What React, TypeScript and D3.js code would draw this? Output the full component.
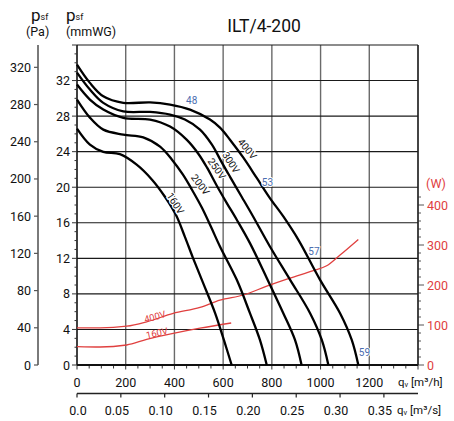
import React from 'react';
import * as d3 from 'd3';

const WIDTH = 454;
const HEIGHT = 421;

// ---- tick values ----
const qTicks = [0, 200, 400, 600, 800, 1000, 1200];
const qMinor = d3.range(0, 1401, 50);
const qsTicks = [0, 0.05, 0.1, 0.15, 0.2, 0.25, 0.3, 0.35];
const qsLabels = ['0.0', '0.05', '0.10', '0.15', '0.20', '0.25', '0.30', '0.35'];
const mmTicks = [0, 4, 8, 12, 16, 20, 24, 28, 32];
const mmMinor = d3.range(0, 37, 1);
const paTicks = [0, 40, 80, 120, 160, 200, 240, 280, 320];
const wTicks = [0, 100, 200, 300, 400];
const wMinor = d3.range(0, 421, 20);
const gridMm = [4, 8, 12, 16, 20, 24, 28, 32, 36];
const gridQ = [200, 400, 600, 800, 1000, 1200, 1400];

// ---- pressure curves [qv m3/h, psf mmWG] ----
const curve400V: [number, number][] = [
  [0, 33.8], [53, 31.74], [108, 30.23], [190, 29.49], [300, 29.55], [382, 29.3], [464, 28.73],
  [546, 27.61], [587, 26.7], [628, 25.35], [683, 23.32], [738, 21.04], [792, 18.78],
  [847, 16.71], [909, 14.08], [998, 9.58], [1080, 5.83], [1128, 2.82], [1155, 0],
];
const curve300V: [number, number][] = [
  [0, 32.9], [53, 30.99], [108, 29.49], [190, 28.54], [300, 28.47], [382, 28.17], [443, 27.61],
  [505, 26.48], [554, 24.79], [595, 22.76], [635, 20.85], [676, 18.93], [723, 16.71],
  [792, 13.33], [875, 9.58], [957, 5.83], [1005, 2.82], [1032, 0],
];
const curve250V: [number, number][] = [
  [0, 31.55], [53, 29.86], [108, 28.73], [190, 27.8], [300, 27.61], [382, 26.82], [450, 25.35],
  [498, 23.77], [534, 22.2], [574, 20.17], [615, 18.22], [656, 16.34], [710, 13.71],
  [779, 9.8], [847, 5.83], [895, 2.82], [922, 0],
];
const curve200V: [number, number][] = [
  [0, 29.86], [53, 27.83], [108, 26.48], [190, 25.92], [272, 25.61], [341, 24.56], [390, 23.1],
  [435, 21.41], [472, 19.72], [513, 17.69], [550, 15.55], [587, 13.33], [656, 9.58],
  [710, 5.83], [751, 2.82], [779, 0],
];
const curve160V: [number, number][] = [
  [0, 26.59], [53, 24.79], [108, 23.97], [176, 23.72], [245, 22.54], [308, 20.85], [361, 18.93],
  [406, 16.9], [443, 14.42], [476, 12.06], [518, 9.21], [567, 5.83], [603, 2.82], [635, 0],
];

// ---- power curves [qv m3/h, W] ----
const power400V: [number, number][] = [
  [0, 93], [95, 93], [204, 97], [286, 108], [395, 129], [505, 144], [587, 162], [683, 175],
  [779, 197], [874, 217], [970, 236], [1025, 248], [1080, 275], [1155, 314],
];
const power160V: [number, number][] = [
  [0, 46], [95, 45], [204, 50], [286, 64], [395, 79], [505, 92], [633, 105],
];

const pressureCurves = [
  { name: '400V', pts: curve400V, label: [690, 24.1], angle: 50 },
  { name: '300V', pts: curve300V, label: [622, 22.6], angle: 57 },
  { name: '250V', pts: curve250V, label: [564, 21.9], angle: 55 },
  { name: '200V', pts: curve200V, label: [497, 20.1], angle: 53 },
  { name: '160V', pts: curve160V, label: [394, 18.0], angle: 57 },
];
const powerCurves = [
  { name: '400V', pts: power400V },
  { name: '160V', pts: power160V },
];
// blue markers [qv, mmWG]
const markers: { text: string; q: number; p: number }[] = [
  { text: '48', q: 471, p: 29.75 },
  { text: '53', q: 782, p: 20.56 },
  { text: '57', q: 973, p: 12.8 },
  { text: '59', q: 1180, p: 1.4 },
];

const FONT = 'Roboto, "DejaVu Sans", sans-serif';
const RED = '#e0403f';
const BLUE = '#4a6db0';

export default function App() {
  const x = d3.scaleLinear().domain([0, 1400]).range([77, 418]);
  const xs = d3.scaleLinear().domain([0, 1400 / 3600]).range([77, 418]);
  const yMm = d3.scaleLinear().domain([0, 36]).range([365, 45]);
  const yPa = d3.scaleLinear().domain([0, 344]).range([365, 45]);
  const yW = d3.scaleLinear().domain([0, 800]).range([365, 45]);

  const lineP = d3
    .line<[number, number]>()
    .x((d) => x(d[0]))
    .y((d) => yMm(d[1]))
    .curve(d3.curveCatmullRom.alpha(0.5));
  const lineW = d3
    .line<[number, number]>()
    .x((d) => x(d[0]))
    .y((d) => yW(d[1]))
    .curve(d3.curveMonotoneX);

  const x0 = x(0);
  const x1 = x(1400);
  const yb = yMm(0);
  const yt = yMm(36);
  const ys = 393.5;

  return (
    <svg
      width={WIDTH}
      height={HEIGHT}
      viewBox={`0 0 ${WIDTH} ${HEIGHT}`}
      style={{ position: 'absolute', left: 0, top: 0, background: '#fff' }}
      fontFamily={FONT}
    >
      <rect width={WIDTH} height={HEIGHT} fill="#fff" />

      {/* grid */}
      {gridQ.map((q) => (
        <line key={'gq' + q} x1={x(q)} x2={x(q)} y1={yt} y2={yb} stroke="#6a6a6a" strokeWidth={1.4} />
      ))}
      {gridMm.map((m) => (
        <line key={'gm' + m} x1={x0} x2={x1} y1={yMm(m)} y2={yMm(m)} stroke="#1a1a1a" strokeWidth={1.1} />
      ))}

      {/* left mmWG axis */}
      <line x1={x0} x2={x0} y1={yt} y2={yb} stroke="#111" strokeWidth={1.6} />
      {mmMinor.map((m) => (
        <line key={'mmm' + m} x1={x0 - (m % 4 === 0 ? 5 : 2.5)} x2={x0} y1={yMm(m)} y2={yMm(m)} stroke="#333" strokeWidth={1} />
      ))}
      {mmTicks.map((m) => (
        <text key={'mmt' + m} x={70} y={yMm(m)} dy="0.36em" textAnchor="end" fontSize={12.5} fill="#111">
          {m}
        </text>
      ))}

      {/* Pa axis */}
      <line x1={38} x2={38} y1={yt} y2={yb} stroke="#7a7a7a" strokeWidth={2} />
      {paTicks.map((p) => (
        <g key={'pa' + p}>
          <line x1={34} x2={38} y1={yPa(p)} y2={yPa(p)} stroke="#555" strokeWidth={1.2} />
          <text x={31} y={yPa(p)} dy="0.36em" textAnchor="end" fontSize={12.5} fill="#111">
            {p}
          </text>
        </g>
      ))}

      {/* bottom m3/h axis */}
      {qMinor.map((q) => (
        <line key={'qm' + q} x1={x(q)} x2={x(q)} y1={yb} y2={yb + (q % 200 === 0 ? 4.5 : 3.5)} stroke="#333" strokeWidth={1} />
      ))}
      <line x1={x0} x2={x1} y1={yb} y2={yb} stroke="#111" strokeWidth={2.2} />
      {qTicks.map((q) => (
        <text key={'qt' + q} x={x(q)} y={382} dy="0.36em" textAnchor="middle" fontSize={12.5} fill="#111">
          {q}
        </text>
      ))}
      <text x={398} y={386} fontSize={11.5} fill="#111">
        q<tspan fontSize={7.5} dy={1}>v</tspan>
        <tspan dy={-1}> [m³/h]</tspan>
      </text>

      {/* bottom m3/s axis */}
      <line x1={x0} x2={x1} y1={ys} y2={ys} stroke="#222" strokeWidth={1.4} />
      {qsTicks.map((v, i) => (
        <g key={'qs' + v}>
          <line x1={xs(v)} x2={xs(v)} y1={ys} y2={ys + 4} stroke="#222" strokeWidth={1.2} />
          <text x={xs(v) - (i === 0 ? -1 : 4)} y={410} dy="0.36em" textAnchor="middle" fontSize={12.5} fill="#111">
            {qsLabels[i]}
          </text>
        </g>
      ))}
      <text x={397} y={414} fontSize={11.5} fill="#111">
        q<tspan fontSize={7.5} dy={1}>v</tspan>
        <tspan dy={-1}> [m³/s]</tspan>
      </text>

      {/* right W axis */}
      {wMinor.map((w) => (
        <line key={'wm' + w} x1={x1} x2={x1 + (w % 100 === 0 ? 6 : 3)} y1={yW(w)} y2={yW(w)} stroke="#555" strokeWidth={1} />
      ))}
      <line x1={x1} x2={x1} y1={yt} y2={yb} stroke="#222" strokeWidth={1.4} />
      {wTicks.map((w) => (
        <text key={'wt' + w} x={427} y={yW(w)} dy="0.36em" textAnchor="start" fontSize={12.5} fill={RED}>
          {w}
        </text>
      ))}
      <text x={426} y={183} dy="0.36em" fontSize={12.5} fill={RED}>
        (W)
      </text>

      {/* power curves */}
      {powerCurves.map((c) => (
        <path key={'pw' + c.name} d={lineW(c.pts) || ''} fill="none" stroke={RED} strokeWidth={1.3} />
      ))}
      <text
        x={x(320)} y={yW(121)} textAnchor="middle" dy="0.36em" fontSize={9.5} fill={RED}
        transform={`rotate(-15 ${x(320)} ${yW(121)})`}
      >
        400V
      </text>
      <text
        x={x(328)} y={yW(80)} textAnchor="middle" dy="0.36em" fontSize={9.5} fill={RED}
        transform={`rotate(-12 ${x(328)} ${yW(80)})`}
      >
        160V
      </text>

      {/* pressure curves */}
      {pressureCurves.map((c) => (
        <path key={'pc' + c.name} d={lineP(c.pts) || ''} fill="none" stroke="#000" strokeWidth={2.3} strokeLinejoin="round" />
      ))}
      {pressureCurves.map((c) => {
        const lx = x(c.label[0]);
        const ly = yMm(c.label[1]);
        return (
          <text
            key={'pl' + c.name}
            x={lx}
            y={ly - 3}
            dy="0.36em"
            textAnchor="middle"
            fontSize={10}
            fill="#111"
            stroke="#fff"
            strokeWidth={2.5}
            paintOrder="stroke"
            transform={`rotate(${c.angle} ${lx} ${ly})`}
          >
            {c.name}
          </text>
        );
      })}

      {/* markers */}
      {markers.map((m) => (
        <text key={'mk' + m.text} x={x(m.q)} y={yMm(m.p)} dy="0.36em" textAnchor="middle" fontSize={10} fill={BLUE}
          stroke="#fff" strokeWidth={2} paintOrder="stroke">
          {m.text}
        </text>
      ))}

      {/* title & headers */}
      <text x={264} y={32} textAnchor="middle" fontSize={17.5} fill="#111">
        ILT/4-200
      </text>
      <text x={31} y={21} fontSize={17} fill="#111">
        p<tspan fontSize={9} dy={-1}>sf</tspan>
      </text>
      <text x={26} y={36} fontSize={12.5} fill="#111">
        (Pa)
      </text>
      <text x={66} y={21} fontSize={17} fill="#111">
        p<tspan fontSize={9} dy={-1}>sf</tspan>
      </text>
      <text x={66} y={36} fontSize={12.5} fill="#111">
        (mmWG)
      </text>
    </svg>
  );
}
